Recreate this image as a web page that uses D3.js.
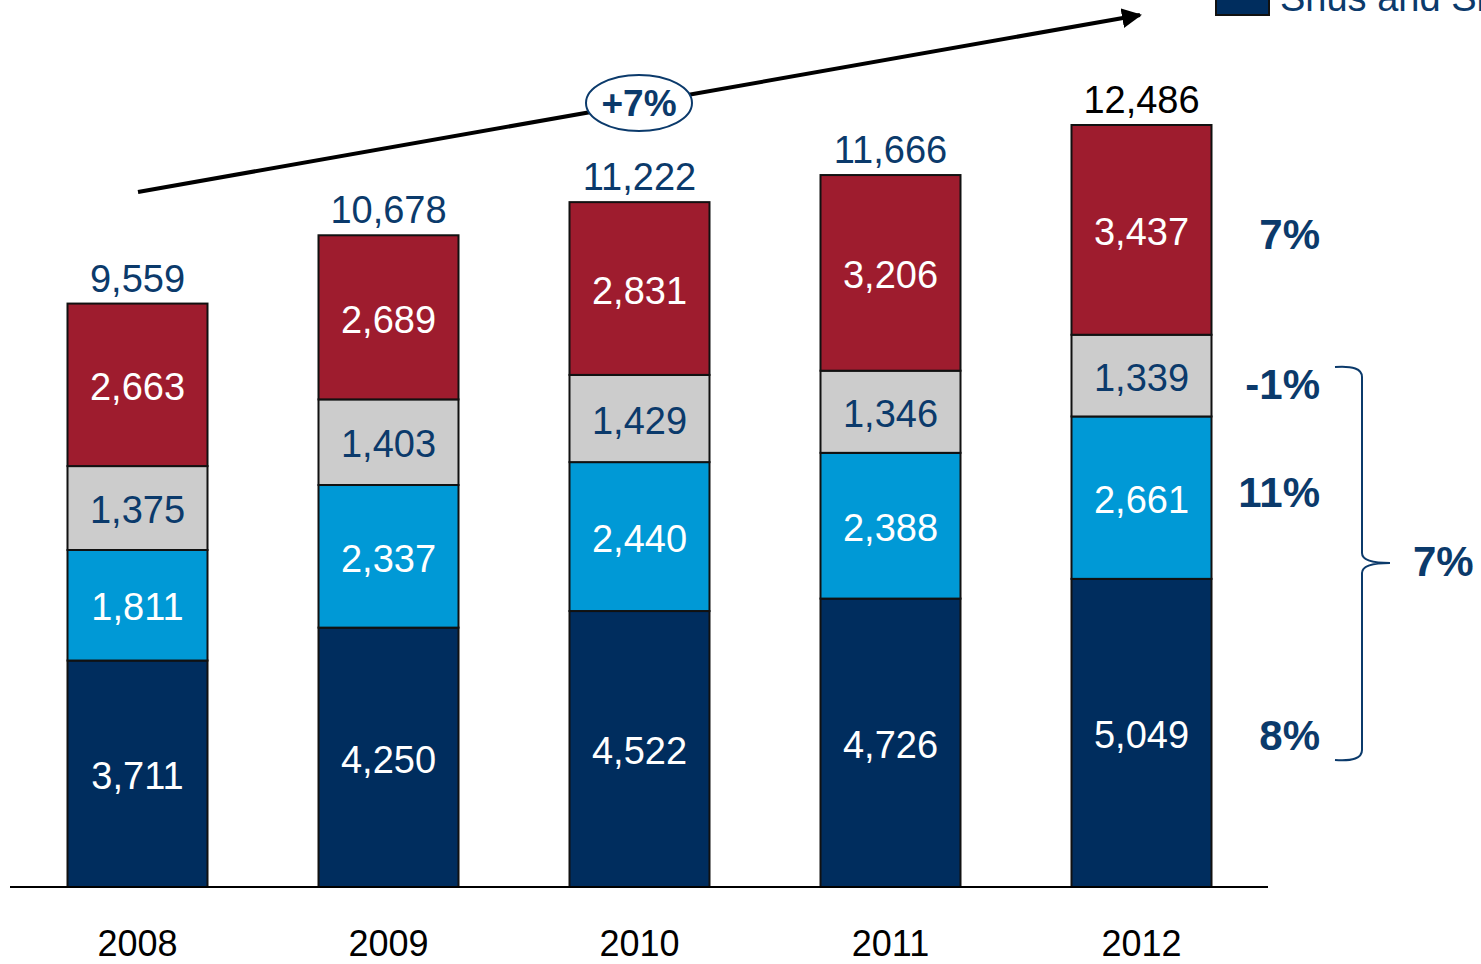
<!DOCTYPE html>
<html><head><meta charset="utf-8">
<script src="https://cdn.jsdelivr.net/npm/d3@7"></script>
<style>body{margin:0;background:#fff;overflow:hidden}svg{display:block}text{font-family:"Liberation Sans",Arial,sans-serif}</style>
</head><body>
<svg id="c" width="1481" height="964"></svg>
<script>
const years = ["2008","2009","2010","2011","2012"];
const snus = [3711,4250,4522,4726,5049];
const seg2 = [1811,2337,2440,2388,2661];
const seg3 = [1375,1403,1429,1346,1339];
const seg4 = [2663,2689,2831,3206,3437];
const totals = [9559,10678,11222,11666,12486];
const growth = ["8%","11%","-1%","7%"];
const overallGrowth = "7%";
const cagr = "+7%";
const legendLabel = "Snus and Snuff";

const keys = ["snus","seg2","seg3","seg4"];
const colors = {snus:"#002D5E", seg2:"#0099D6", seg3:"#CCCCCC", seg4:"#9E1C2E"};
const labelColors = {snus:"#fff", seg2:"#fff", seg3:"#0B3A6B", seg4:"#fff"};
const rows = years.map((y,i)=>({year:y, snus:snus[i], seg2:seg2[i], seg3:seg3[i], seg4:seg4[i], total:totals[i]}));

const svg = d3.select("#c");
const xb = d3.scalePoint().domain(years).range([137.5, 1141.5]);
const bw = 140;
const y = d3.scaleLinear().domain([0, 12486]).range([887, 125]);

const stack = d3.stack().keys(keys)(rows);
const fmt = d3.format(",");

const g = svg.append("g");
stack.forEach(layer => {
  const k = layer.key;
  const lg = g.append("g");
  lg.selectAll("rect").data(layer).join("rect")
    .attr("x", d => xb(d.data.year) - bw/2)
    .attr("y", d => y(d[1]))
    .attr("width", bw)
    .attr("height", d => y(d[0]) - y(d[1]))
    .attr("fill", colors[k])
    .attr("stroke", "#111").attr("stroke-width", 2);
  lg.selectAll("text").data(layer).join("text")
    .attr("x", d => xb(d.data.year))
    .attr("y", d => (y(d[0]) + y(d[1]))/2)
    .attr("dy", "0.4em")
    .attr("text-anchor", "middle")
    .attr("font-size", 38)
    .attr("fill", labelColors[k])
    .text(d => fmt(d[1]-d[0]));
});

// totals
g.selectAll(".tot").data(rows).join("text")
  .attr("class","tot")
  .attr("x", d => xb(d.year))
  .attr("y", d => y(d.total) - 12)
  .attr("text-anchor","middle")
  .attr("font-size", 38)
  .attr("fill", (d,i) => i === rows.length-1 ? "#000" : "#0B3A6B")
  .text(d => fmt(d.total));

// baseline axis
svg.append("line").attr("x1",10).attr("x2",1268).attr("y1",887).attr("y2",887)
  .attr("stroke","#000").attr("stroke-width",2);

// year labels
svg.selectAll(".yr").data(years).join("text")
  .attr("x", d => xb(d)).attr("y", 956)
  .attr("text-anchor","middle").attr("font-size",36).attr("fill","#000")
  .text(d => d);

// growth labels for last bar segments
const last = stack.map(l => l[l.length-1]);
const gOff = [2, -6, 8, 4];
svg.selectAll(".gr").data(last).join("text")
  .attr("x", 1320)
  .attr("y", (d,i) => (y(d[0]) + y(d[1]))/2 + gOff[i])
  .attr("dy","0.36em")
  .attr("text-anchor","end")
  .attr("font-size",42).attr("font-weight","bold").attr("fill","#0B3A6B")
  .text((d,i) => growth[i]);

// brace
const bTop = 367, bBot = 760, bMid = 563, bx = 1362;
const brace = `M1335,${bTop} Q${bx},${bTop-2} ${bx},${bTop+10} L${bx},${bMid-10} Q${bx},${bMid} 1390,${bMid} Q${bx},${bMid} ${bx},${bMid+10} L${bx},${bBot-10} Q${bx},${bBot+2} 1335,${bBot}`;
svg.append("path").attr("d", brace).attr("fill","none").attr("stroke","#0B3A6B").attr("stroke-width",2);
svg.append("text").attr("x",1413).attr("y",bMid-2).attr("dy","0.36em")
  .attr("font-size",42).attr("font-weight","bold").attr("fill","#0B3A6B").text(overallGrowth);

// trend arrow
const defs = svg.append("defs");
defs.append("marker").attr("id","ah").attr("viewBox","0 0 10 10").attr("refX",9).attr("refY",5)
  .attr("markerWidth",5).attr("markerHeight",5).attr("orient","auto")
  .append("path").attr("d","M0,0 L10,5 L0,10 z").attr("fill","#000");
svg.append("line").attr("x1",138).attr("y1",192).attr("x2",1140).attr("y2",15)
  .attr("stroke","#000").attr("stroke-width",4).attr("marker-end","url(#ah)");
svg.append("ellipse").attr("cx",639).attr("cy",103).attr("rx",53).attr("ry",28)
  .attr("fill","#fff").attr("stroke","#0B3A6B").attr("stroke-width",2);
svg.append("text").attr("x",639).attr("y",103).attr("dy","0.36em").attr("text-anchor","middle")
  .attr("font-size",37).attr("font-weight","bold").attr("fill","#0B3A6B").text(cagr);

// legend (partially off-canvas as in reference)
svg.append("rect").attr("x",1216).attr("y",-30).attr("width",53).attr("height",45)
  .attr("fill",colors.snus).attr("stroke","#111").attr("stroke-width",2);
svg.append("text").attr("x",1280).attr("y",11).attr("font-size",38).attr("fill","#0B3A6B").text(legendLabel);
</script>
</body></html>
